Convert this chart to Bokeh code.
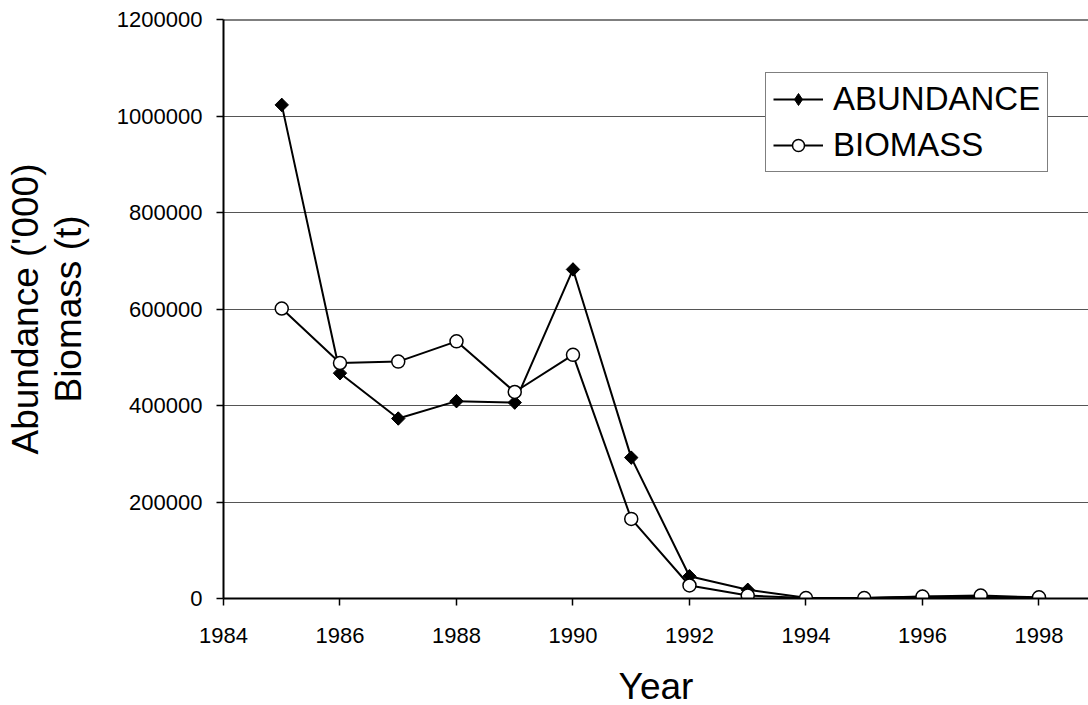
import numpy as np
from bokeh.plotting import figure
from bokeh.models import FixedTicker, BasicTickFormatter, Legend, LegendItem, Span, Range1d
from bokeh.embed import file_html
from bokeh.resources import INLINE

years = [1985, 1986, 1987, 1988, 1989, 1990, 1991, 1992, 1993, 1994, 1995, 1996, 1997, 1998]
abundance = [1023000, 467000, 373000, 409000, 406000, 682000, 292000, 46000, 18000, 1500, 800, 3500, 3000, 1500]
biomass = [601000, 488000, 491000, 533000, 428000, 505000, 165000, 27000, 6000, 1000, 800, 4000, 6000, 2500]
x_ticks = [1984, 1986, 1988, 1990, 1992, 1994, 1996, 1998]
y_ticks = [0, 200000, 400000, 600000, 800000, 1000000, 1200000]

FONT = "Liberation Sans"

p = figure(frame_width=865, frame_height=579, output_backend="svg", toolbar_location=None,
           x_range=Range1d(1984, 1998.85), y_range=Range1d(0, 1200000),
           min_border_left=223, min_border_right=0, min_border_top=19, min_border_bottom=107)
p.outline_line_color = None
p.background_fill_color = "white"
p.border_fill_color = "white"

for ax in (p.xaxis[0], p.yaxis[0]):
    ax.axis_line_color = "black"
    ax.axis_line_width = 2
    ax.major_tick_line_color = "black"
    ax.major_tick_line_width = 1.5
    ax.major_tick_out = 7
    ax.major_tick_in = 0
    ax.minor_tick_line_color = None
    ax.major_label_text_font = FONT
    ax.major_label_text_font_size = "22px"
    ax.major_label_text_color = "black"
    ax.axis_label_text_font = FONT
    ax.axis_label_text_font_size = "37px"
    ax.axis_label_text_font_style = "normal"
    ax.axis_label_text_color = "black"

p.xaxis.axis_label_text_line_height = 1.0
p.yaxis.axis_label_text_line_height = 1.05
p.xaxis.ticker = FixedTicker(ticks=x_ticks)
p.yaxis.ticker = FixedTicker(ticks=y_ticks)
p.yaxis.formatter = BasicTickFormatter(use_scientific=False)
p.xaxis.formatter = BasicTickFormatter(use_scientific=False)
p.xaxis.major_label_standoff = 22
p.yaxis.major_label_standoff = 14
p.xaxis.axis_label = "Year"
p.yaxis.axis_label = "Abundance ('000)\nBiomass (t)"
p.xaxis.axis_label_standoff = 20
p.yaxis.axis_label_standoff = 25

p.xgrid.grid_line_color = None
p.ygrid.grid_line_color = "#555555"
p.ygrid.grid_line_width = 1

p.add_layout(Span(location=1200000, dimension="width", line_color="black", line_width=2))

# legend key marker (diamond), drawn underneath the rotated-square markers
key_d = p.scatter(years, abundance, marker="diamond", size=13,
                  fill_color="black", line_color="black", line_width=1)

l1 = p.line(years, abundance, line_color="black", line_width=2)
s1 = p.scatter(years, abundance, marker="square", angle=np.pi / 4, size=9.5,
               fill_color="black", line_color="black", line_width=1)
l2 = p.line(years, biomass, line_color="black", line_width=2)
s2 = p.scatter(years, biomass, marker="circle", size=13,
               fill_color="white", line_color="black", line_width=1.5)

legend = Legend(items=[LegendItem(label="ABUNDANCE", renderers=[l1, key_d]),
                       LegendItem(label="BIOMASS", renderers=[l2, s2])],
                location=(542, 426))
legend.label_text_font = FONT
legend.label_text_font_size = "33px"
legend.label_text_color = "black"
legend.glyph_width = 50
legend.glyph_height = 30
legend.label_standoff = 10
legend.padding = 7
legend.spacing = 8
legend.margin = 0
legend.border_line_color = "black"
legend.border_line_width = 1
legend.background_fill_color = "white"
legend.background_fill_alpha = 1.0
p.add_layout(legend, "center")

open("out.html", "w").write(file_html(p, INLINE))
